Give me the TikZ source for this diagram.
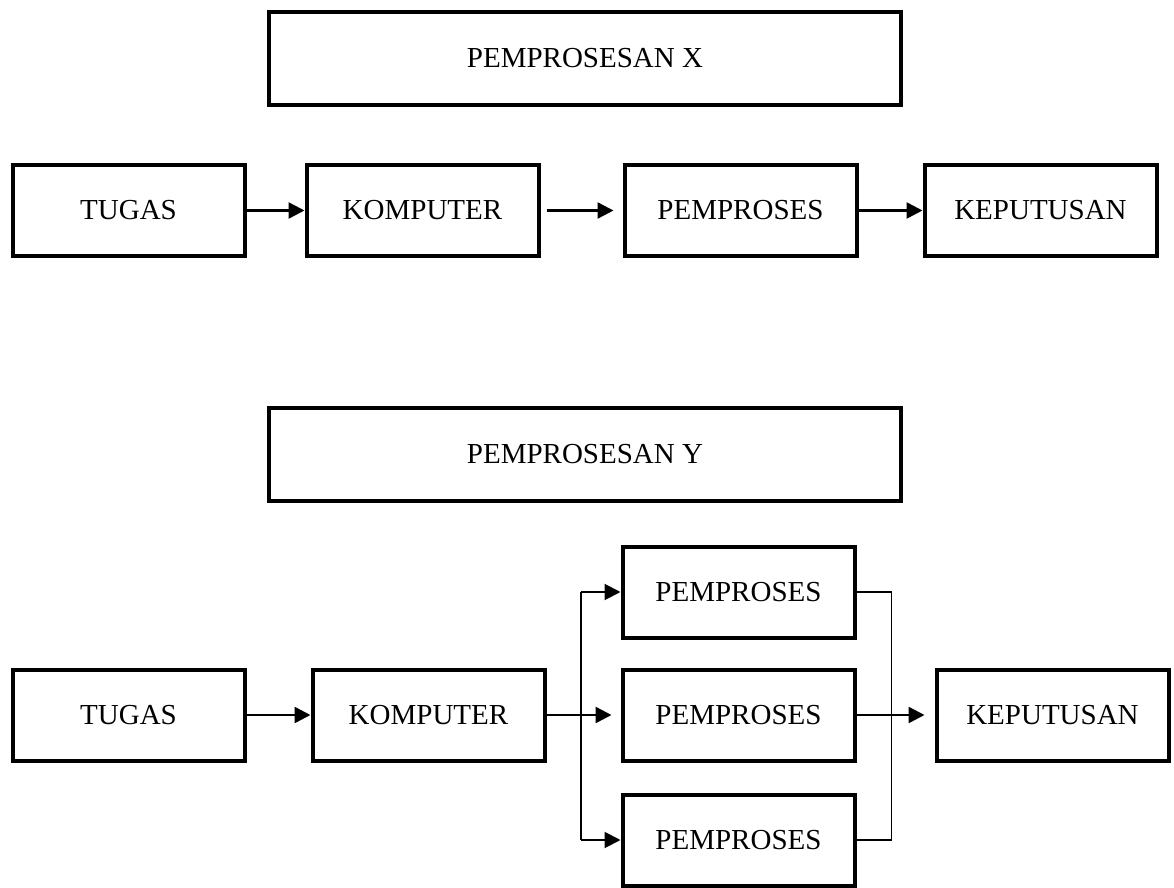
\documentclass[tikz,border=0pt]{standalone}
\usepackage{fontspec}
\setmainfont{Liberation Serif}
\usetikzlibrary{arrows.meta,positioning}

\begin{document}
\begin{tikzpicture}[
x=0.5pt,y=-0.5pt,
box/.style={rectangle,draw,line width=2pt,minimum width=116pt,minimum height=45.5pt,inner sep=0pt,font=\fontsize{14.5}{17}\selectfont},
titlebox/.style={box,minimum width=316pt,minimum height=46.5pt},
arr/.style={-{Triangle[length=8pt,width=8pt]},line width=1.25pt},
link/.style={line width=1pt}
]
\useasboundingbox (0,0) rectangle (1174,888);

% pemprosesan X
\node[titlebox] (titlex) at (585,58.5) {PEMPROSESAN X};
\node[box] (tugasx) at (128.5,210.5) {TUGAS};
\node[box,right=29pt of tugasx] (kompx) {KOMPUTER};
\node[box,right=41pt of kompx] (prosx) {PEMPROSES};
\node[box,right=32pt of prosx] (keputx) {KEPUTUSAN};

\draw[arr] (tugasx) -- (kompx);
\draw[arr,shorten <=3pt,shorten >=4.5pt] (kompx) -- (prosx);
\draw[arr] (prosx) -- (keputx);

% pemprosesan Y
\node[titlebox] (titley) at (585,454.5) {PEMPROSESAN Y};
\node[box] (tugasy) at (128.5,715) {TUGAS};
\node[box,right=32pt of tugasy] (kompy) {KOMPUTER};
\node[box,right=37pt of kompy] (prosy2) {PEMPROSES};
\node[box,above=14pt of prosy2] (prosy1) {PEMPROSES};
\node[box,below=15pt of prosy2] (prosy3) {PEMPROSES};
\node[box,right=39pt of prosy2] (keputy) {KEPUTUSAN};

\coordinate[right=17pt of kompy.east] (split);
\coordinate[right=17.5pt of prosy2.east] (join);

\draw[arr] (tugasy) -- (kompy);
\draw[arr,shorten >=4.5pt] (kompy) -- (prosy2);
\draw[link] (prosy1.west -| split) -- (prosy3.west -| split);
\draw[arr,link] (prosy1.west -| split) -- (prosy1.west);
\draw[arr,link] (prosy3.west -| split) -- (prosy3.west);
\draw[link,line width=0.75pt] (prosy1.east) -| (join |- prosy3.east) -- (prosy3.east);
\draw[arr,shorten >=5pt] (prosy2) -- (keputy);
\end{tikzpicture}
\end{document}
